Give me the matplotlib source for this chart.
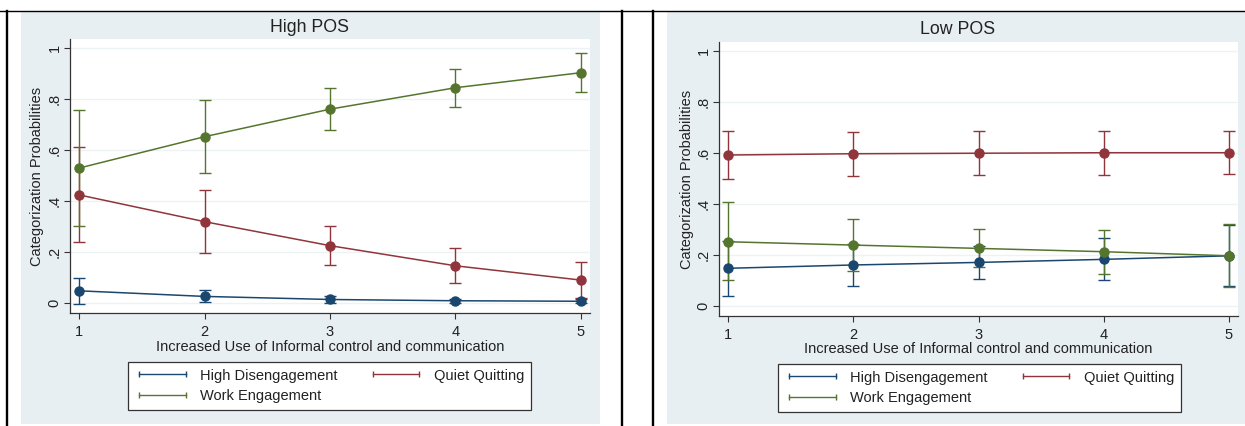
import matplotlib.pyplot as plt
from matplotlib.lines import Line2D
from matplotlib.patches import Rectangle

plt.rcParams['font.family'] = ['Liberation Sans', 'DejaVu Sans']

levels = [1, 2, 3, 4, 5]
names = ['High Disengagement', 'Quiet Quitting', 'Work Engagement']
colors = ['#1a476f', '#90353b', '#55752f']

# High POS: predicted probabilities with 95% CI
high_hd = [0.048, 0.026, 0.014, 0.009, 0.007]
high_hd_lo = [-0.004, 0.003, 0.002, 0.001, 0.000]
high_hd_hi = [0.099, 0.050, 0.026, 0.017, 0.014]
high_qq = [0.424, 0.319, 0.225, 0.146, 0.090]
high_qq_lo = [0.238, 0.197, 0.149, 0.080, 0.018]
high_qq_hi = [0.612, 0.443, 0.301, 0.214, 0.162]
high_we = [0.529, 0.652, 0.760, 0.844, 0.903]
high_we_lo = [0.302, 0.511, 0.678, 0.770, 0.829]
high_we_hi = [0.758, 0.796, 0.843, 0.918, 0.979]

# Low POS
low_hd = [0.148, 0.161, 0.171, 0.183, 0.197]
low_hd_lo = [0.040, 0.078, 0.105, 0.102, 0.078]
low_hd_hi = [0.256, 0.244, 0.237, 0.265, 0.317]
low_qq = [0.592, 0.597, 0.599, 0.601, 0.601]
low_qq_lo = [0.498, 0.510, 0.515, 0.515, 0.516]
low_qq_hi = [0.686, 0.684, 0.686, 0.686, 0.687]
low_we = [0.252, 0.239, 0.226, 0.213, 0.197]
low_we_lo = [0.102, 0.138, 0.154, 0.125, 0.076]
low_we_hi = [0.407, 0.340, 0.301, 0.298, 0.320]

W, H = 1245, 426
BG = '#e8eff2'
GRID = '#edf2f4'
INK = '#222222'


def fbox(x0, y0, x1, y1):
    return [x0 / W, 1 - y1 / H, (x1 - x0) / W, (y1 - y0) / H]


fig = plt.figure(figsize=(W / 100, H / 100), dpi=100)

# graph regions (behind the axes)
for x0, x1 in [(21, 600), (667, 1245)]:
    fig.add_artist(Rectangle((x0 / W, 1 - 424 / H), (x1 - x0) / W, (424 - 11) / H,
                             transform=fig.transFigure, facecolor=BG, edgecolor='none', zorder=-5))

# table borders
fig.add_artist(Line2D([0 / W, 1], [1 - 10.5 / H] * 2, color='black', lw=1.0))
for x in [6.5, 621.5, 653.0]:
    fig.add_artist(Line2D([x / W] * 2, [0, 1 - 10.5 / H], color='black', lw=1.7))


def panel(box, title, title_xy, xlab_xy, ylab_xy, legend_xy, data):
    ax = fig.add_axes(fbox(*box))
    ax.set_facecolor('white')
    ax.set_xlim(0.928, 5.072)
    ax.set_ylim(-0.039, 1.035)
    for s in ['top', 'right']:
        ax.spines[s].set_visible(False)
    for s in ['left', 'bottom']:
        ax.spines[s].set_color('#333333')
        ax.spines[s].set_linewidth(0.9)
    ax.set_yticks([0, 0.2, 0.4, 0.6, 0.8, 1.0])
    ax.set_yticklabels(['0', '.2', '.4', '.6', '.8', '1'], rotation=90, va='center')
    ax.set_xticks(levels)
    ax.tick_params(direction='out', length=4, width=0.8, color='#333333',
                   labelsize=10.5, labelcolor=INK)
    ax.tick_params(axis='x', pad=4.5)
    ax.tick_params(axis='y', pad=2)
    ax.grid(axis='y', color=GRID, lw=1.0)
    ax.set_axisbelow(True)

    handles = []
    for (y, lo, hi), c in zip(data, colors):
        ax.errorbar(levels, y, yerr=[[a - b for a, b in zip(y, lo)], [b - a for a, b in zip(y, hi)]],
                    fmt='none', ecolor=c, elinewidth=1.0, capsize=4, capthick=1.0, zorder=2)
    for (y, lo, hi), c in zip(data, colors):
        ax.plot(levels, y, color=c, lw=1.1, marker='o', markersize=6.5, zorder=3)
        handles.append(Line2D([0], [0], color=c, lw=1.0, marker='|', markersize=5,
                              markeredgewidth=1.0))

    fig.text(title_xy[0] / W, 1 - title_xy[1] / H, title, ha='center', va='center',
             fontsize=12.8, color=INK)
    fig.text(xlab_xy[0] / W, 1 - xlab_xy[1] / H, 'Increased Use of Informal control and communication',
             ha='center', va='center', fontsize=10.5, color=INK)
    fig.text(ylab_xy[0] / W, 1 - ylab_xy[1] / H, 'Categorization Probabilities',
             ha='center', va='center', rotation=90, fontsize=10.5, color=INK)

    order = [0, 2, 1]
    leg = fig.legend([handles[i] for i in order], [names[i] for i in order], ncol=2,
                     loc='upper left', bbox_to_anchor=(legend_xy[0] / W, 1 - legend_xy[1] / H),
                     borderaxespad=0, fontsize=10.5, numpoints=2, handlelength=3.8,
                     handletextpad=0.7, columnspacing=2.1, labelspacing=0.45, borderpad=0.45,
                     fancybox=False, framealpha=1, edgecolor='#333333')
    leg.get_frame().set_linewidth(0.9)
    for t in leg.get_texts():
        t.set_color(INK)
    return ax


panel((70, 39, 590, 313), 'High POS', (310, 27), (330, 347), (37, 176), (128, 362),
      [(high_hd, high_hd_lo, high_hd_hi), (high_qq, high_qq_lo, high_qq_hi),
       (high_we, high_we_lo, high_we_hi)])
panel((719, 42, 1238, 316), 'Low POS', (958, 30), (978, 349), (687, 179), (778, 364),
      [(low_hd, low_hd_lo, low_hd_hi), (low_qq, low_qq_lo, low_qq_hi),
       (low_we, low_we_lo, low_we_hi)])

fig.savefig('out.png', dpi=100)
